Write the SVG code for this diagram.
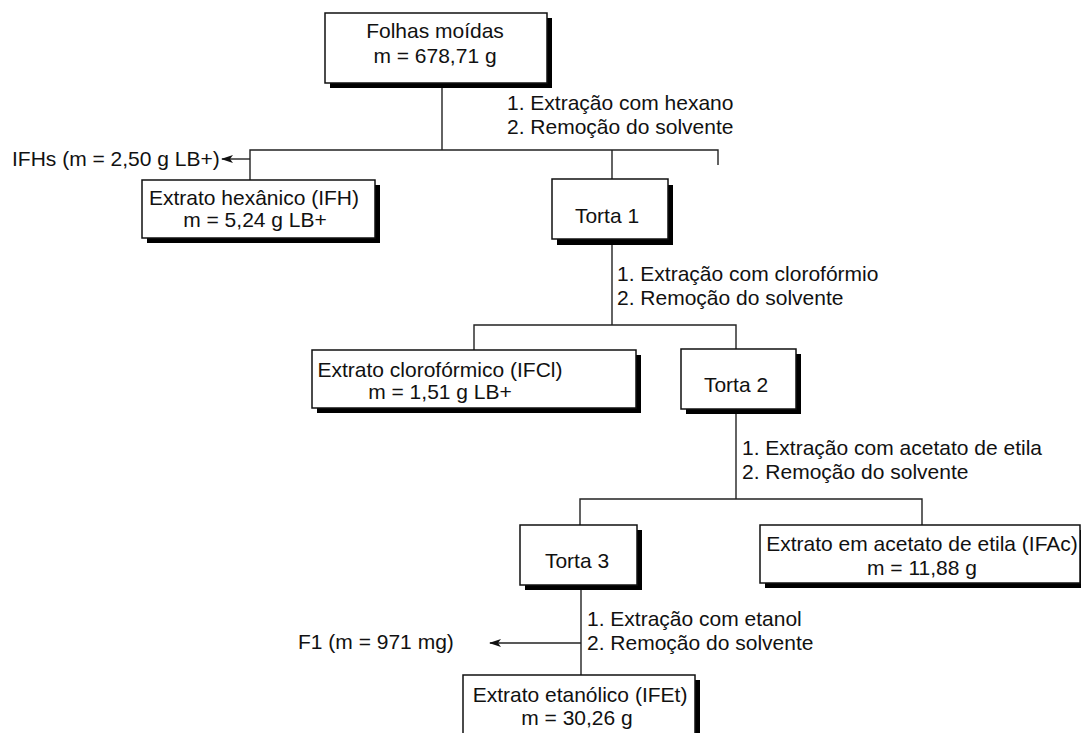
<svg xmlns="http://www.w3.org/2000/svg" width="1081" height="733" viewBox="0 0 1081 733">
<defs>
<style>
.box{fill:#fff;stroke:#111;stroke-width:1.5}
.sh{fill:#000}
.ln{fill:none;stroke:#222;stroke-width:1.4}
text{font-family:"Liberation Sans",Arial,sans-serif;font-size:21px;fill:#111}
.c{text-anchor:middle}
</style>
<marker id="ah" viewBox="0 0 12 8" refX="11" refY="4" markerWidth="12" markerHeight="8" markerUnits="userSpaceOnUse" orient="auto">
<path d="M0,0 L12,4 L0,8 L3,4 Z" fill="#111"/>
</marker>
</defs>
<rect width="1081" height="733" fill="#fff"/>
<g id="connectors">
<path class="ln" d="M442,83 V150"/>
<path class="ln" d="M250,180 V150 H718 V165"/>
<path class="ln" d="M612,150 V179"/>
<path class="ln" d="M250,159 H222" marker-end="url(#ah)"/>
<path class="ln" d="M612,245 V325"/>
<path class="ln" d="M474,350 V325 H736 V349"/>
<path class="ln" d="M736,409 V499"/>
<path class="ln" d="M580,525 V499 H922 V525"/>
<path class="ln" d="M581,586 V675"/>
<path class="ln" d="M581,643 H490" marker-end="url(#ah)"/>
</g>
<g id="labels">
<text x="507" y="110">1. Extração com hexano</text>
<text x="507" y="134">2. Remoção do solvente</text>
<text x="617" y="281">1. Extração com clorofórmio</text>
<text x="617" y="305">2. Remoção do solvente</text>
<text x="742" y="455">1. Extração com acetato de etila</text>
<text x="742" y="479">2. Remoção do solvente</text>
<text x="587" y="626">1. Extração com etanol</text>
<text x="587" y="650">2. Remoção do solvente</text>
<text x="12" y="166">IFHs (m = 2,50 g LB+)</text>
<text x="298" y="649">F1 (m = 971 mg)</text>
</g>
<g id="folhas">
<rect class="sh" x="330" y="18" width="222" height="70"/>
<rect class="box" x="325" y="13" width="222" height="70"/>
<text class="c" x="435" y="38">Folhas moídas</text>
<text class="c" x="435" y="63">m = 678,71 g</text>
</g>
<g id="ifh">
<rect class="sh" x="147" y="185" width="233" height="58"/>
<rect class="box" x="142" y="180" width="233" height="58"/>
<text class="c" x="254" y="205">Extrato hexânico (IFH)</text>
<text class="c" x="255" y="227">m = 5,24 g LB+</text>
</g>
<g id="torta1">
<rect class="sh" x="557" y="185" width="116" height="60"/>
<rect class="box" x="552" y="179" width="116" height="60"/>
<text class="c" x="607" y="223">Torta 1</text>
</g>
<g id="ifcl">
<rect class="sh" x="317" y="355" width="324" height="58"/>
<rect class="box" x="312" y="350" width="324" height="58"/>
<text class="c" x="440" y="377">Extrato clorofórmico (IFCl)</text>
<text class="c" x="440" y="399">m = 1,51 g LB+</text>
</g>
<g id="torta2">
<rect class="sh" x="686" y="354" width="115" height="60"/>
<rect class="box" x="681" y="349" width="115" height="60"/>
<text class="c" x="736" y="392">Torta 2</text>
</g>
<g id="torta3">
<rect class="sh" x="525" y="530" width="117" height="60"/>
<rect class="box" x="520" y="525" width="117" height="60"/>
<text class="c" x="577" y="568">Torta 3</text>
</g>
<g id="ifac">
<rect class="sh" x="765" y="530" width="320" height="58"/>
<rect class="box" x="760" y="525" width="320" height="58"/>
<text class="c" x="922" y="551">Extrato em acetato de etila (IFAc)</text>
<text class="c" x="922" y="575">m = 11,88 g</text>
</g>
<g id="ifet">
<rect class="sh" x="468" y="680" width="232" height="70"/>
<rect class="box" x="463" y="675" width="232" height="70"/>
<text class="c" x="580" y="702">Extrato etanólico (IFEt)</text>
<text class="c" x="577" y="725">m = 30,26 g</text>
</g>
</svg>
